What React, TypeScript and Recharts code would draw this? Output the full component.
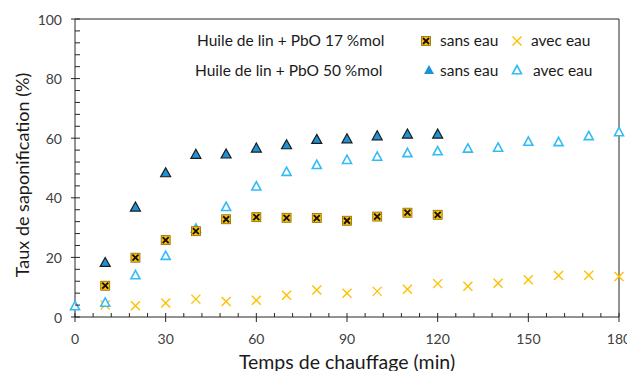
import { ScatterChart, Scatter, XAxis, YAxis, ReferenceLine } from 'recharts'

// temps de chauffage (min)
const TEMPS_SANS_EAU = [10, 20, 30, 40, 50, 60, 70, 80, 90, 100, 110, 120]
const TEMPS_17_AVEC = [10, 20, 30, 40, 50, 60, 70, 80, 90, 100, 110, 120, 130, 140, 150, 160, 170, 180]
const TEMPS_50_AVEC = [0, 10, 20, 30, 40, 50, 60, 70, 80, 90, 100, 110, 120, 130, 140, 150, 160, 170, 180]

// taux de saponification (%)
const PBO17_SANS = [10.5, 19.9, 25.8, 28.8, 32.8, 33.5, 33.3, 33.2, 32.3, 33.7, 35.0, 34.3]
const PBO17_AVEC = [4.0, 3.8, 4.7, 6.0, 5.2, 5.6, 7.3, 9.1, 8.0, 8.6, 9.3, 11.2, 10.3, 11.3, 12.5, 13.9, 14.0, 13.6]
const PBO50_SANS = [18.3, 36.9, 48.4, 54.6, 54.7, 56.7, 57.8, 59.6, 59.8, 60.8, 61.4, 61.4]
const PBO50_AVEC = [3.7, 4.9, 14.1, 20.6, 29.7, 37.0, 43.9, 48.8, 51.1, 52.8, 53.9, 55.1, 55.7, 56.6, 56.9, 58.9, 58.8, 60.8, 62.1]

const X_TICKS = Array.from({ length: 31 }, (_, i) => i * 6)
const Y_TICKS = Array.from({ length: 26 }, (_, i) => i * 4)

const AXIS = '#262626'
const TEXT = '#404040'
const FONT = 'Lato, "Open Sans", sans-serif'
const GOLD = '#FFC000'
const BLUE = '#1C92D8'
const LIGHT_BLUE = '#33BBF5'

const zip = (xs: number[], ys: number[]) => xs.map((t, i) => ({ t, v: ys[i] }))

const SquareX = ({ cx, cy }: any) => (
  <g>
    <rect x={cx - 4.5} y={cy - 4.5} width={9} height={9} fill={GOLD} stroke="#8a6a00" strokeWidth={0.8} />
    <line x1={cx - 3} y1={cy - 3} x2={cx + 3} y2={cy + 3} stroke="#111" strokeWidth={1.8} />
    <line x1={cx - 3} y1={cy + 3} x2={cx + 3} y2={cy - 3} stroke="#111" strokeWidth={1.8} />
  </g>
)

const Cross = ({ cx, cy }: any) => (
  <g>
    <line x1={cx - 4.5} y1={cy - 4.5} x2={cx + 4.5} y2={cy + 4.5} stroke={GOLD} strokeWidth={1.4} />
    <line x1={cx - 4.5} y1={cy + 4.5} x2={cx + 4.5} y2={cy - 4.5} stroke={GOLD} strokeWidth={1.4} />
  </g>
)

const FilledTri = ({ cx, cy, outline = true }: any) => (
  <polygon
    points={`${cx},${cy - 5} ${cx + 5},${cy + 4} ${cx - 5},${cy + 4}`}
    fill={BLUE}
    stroke={outline ? '#1a1a1a' : 'none'}
    strokeWidth={1.2}
    strokeLinejoin="miter"
  />
)

const OpenTri = ({ cx, cy }: any) => (
  <polygon
    points={`${cx},${cy - 4.5} ${cx + 4.5},${cy + 3.8} ${cx - 4.5},${cy + 3.8}`}
    fill="#fff"
    stroke={LIGHT_BLUE}
    strokeWidth={1.6}
  />
)

const YTick = ({ x, y, payload }: any) => {
  const major = payload.value % 20 === 0
  return (
    <g>
      <line x1={major ? x - 4 : x} x2={x + 5} y1={y} y2={y} stroke={AXIS} />
      {major && (
        <text x={x - 13} y={y} textAnchor="end" dominantBaseline="central" fill={TEXT} fontSize={14} fontFamily={FONT}>
          {payload.value}
        </text>
      )}
    </g>
  )
}

const XTick = ({ x, y, payload }: any) => {
  const major = payload.value % 30 === 0
  return (
    <g>
      <line x1={x} x2={x} y1={y - 4} y2={major ? y + 5 : y} stroke={AXIS} />
      {major && (
        <text x={x} y={y + 21} textAnchor="middle" dominantBaseline="central" fill={TEXT} fontSize={14} fontFamily={FONT}>
          {payload.value}
        </text>
      )}
    </g>
  )
}

const YTitle = ({ viewBox }: any) => {
  const cx = viewBox.x + 22
  const cy = viewBox.y + viewBox.height / 2 + 7
  return (
    <text x={cx} y={cy} transform={`rotate(-90, ${cx}, ${cy})`} textAnchor="middle" dominantBaseline="central"
      fill="#1a1a1a" fontSize={18} fontFamily={FONT}>
      Taux de saponification (%)
    </text>
  )
}

const XTitle = ({ viewBox }: any) => (
  <text x={viewBox.x + viewBox.width / 2} y={viewBox.y + 44} textAnchor="middle" dominantBaseline="central"
    fill="#1a1a1a" fontSize={19.5} fontFamily={FONT}>
    Temps de chauffage (min)
  </text>
)

const legendText = { position: 'absolute' as const, fontFamily: FONT, fontSize: 15.5, color: '#1a1a1a', lineHeight: '18px', whiteSpace: 'nowrap' as const }

function LegendBox() {
  return (
    <div style={{ position: 'absolute', left: 0, top: 0, width: 627, height: 100, pointerEvents: 'none' }}>
      <span style={{ ...legendText, left: 197, top: 31 }}>Huile de lin + PbO 17 %mol</span>
      <span style={{ ...legendText, left: 195, top: 61 }}>Huile de lin + PbO 50 %mol</span>
      <svg style={{ position: 'absolute', left: 0, top: 0 }} width={627} height={100}>
        <SquareX cx={426} cy={41} />
        <Cross cx={517} cy={41} />
        <FilledTri cx={429} cy={70} outline={false} />
        <OpenTri cx={517} cy={70} />
      </svg>
      <span style={{ ...legendText, left: 440, top: 31 }}>sans eau</span>
      <span style={{ ...legendText, left: 531, top: 31 }}>avec eau</span>
      <span style={{ ...legendText, left: 440, top: 61 }}>sans eau</span>
      <span style={{ ...legendText, left: 533, top: 61 }}>avec eau</span>
    </div>
  )
}

export default function App() {
  return (
    <div style={{ position: 'relative', width: 627, height: 371, background: '#fff', overflow: 'hidden' }}>
      <style>{'body{margin:0}'}</style>
      <ScatterChart width={627} height={371} margin={{ top: 19, right: 8, bottom: 0, left: 0 }}>
        <XAxis
          type="number"
          dataKey="t"
          domain={[0, 180]}
          ticks={X_TICKS}
          interval={0}
          tick={<XTick />}
          tickLine={false}
          tickSize={0}
          tickMargin={0}
          height={54}
          stroke={AXIS}
          label={<XTitle />}
        />
        <YAxis
          type="number"
          dataKey="v"
          domain={[0, 100]}
          ticks={Y_TICKS}
          interval={0}
          tick={<YTick />}
          tickLine={false}
          tickSize={0}
          tickMargin={0}
          width={75}
          stroke={AXIS}
          label={<YTitle />}
        />
        <ReferenceLine y={100} stroke={AXIS} />
        <ReferenceLine x={180} stroke={AXIS} />
        <Scatter data={zip(TEMPS_17_AVEC, PBO17_AVEC)} shape={<Cross />} isAnimationActive={false} />
        <Scatter data={zip(TEMPS_50_AVEC, PBO50_AVEC)} shape={<OpenTri />} isAnimationActive={false} />
        <Scatter data={zip(TEMPS_SANS_EAU, PBO17_SANS)} shape={<SquareX />} isAnimationActive={false} />
        <Scatter data={zip(TEMPS_SANS_EAU, PBO50_SANS)} shape={<FilledTri />} isAnimationActive={false} />
      </ScatterChart>
      <LegendBox />
    </div>
  )
}
